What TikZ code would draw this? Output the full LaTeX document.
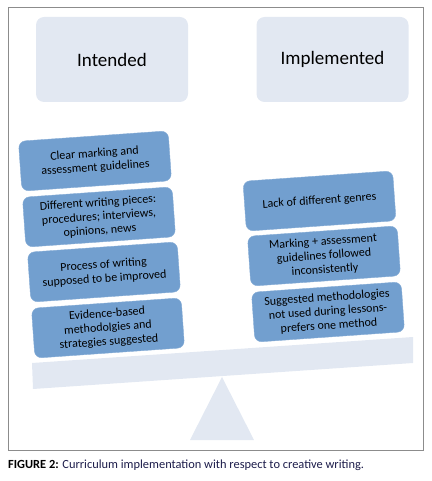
\documentclass[tikz,border=0pt]{standalone}
\usepackage{fontspec}
\setmainfont{Carlito}
\usepackage{tikz}
\usetikzlibrary{positioning}
\definecolor{paleblue}{HTML}{E2E8F2}
\definecolor{itemblue}{HTML}{729FCF}
\definecolor{framegray}{HTML}{8C8C8C}
\definecolor{capnavy}{HTML}{1C1C4A}

\begin{document}
\begin{tikzpicture}[
    x=1pt, y=-1pt,
    head/.style={fill=paleblue, rounded corners=8pt, minimum width=152pt, minimum height=85pt, font=\fontsize{19}{22}\selectfont},
    item/.style={fill=itemblue, draw=itemblue!85!white, rounded corners=7pt, minimum width=150pt, minimum height=50pt, inner sep=1pt, align=center, rotate=4, font=\fontsize{12}{14}\selectfont}
]
\useasboundingbox (0,0) rectangle (431,481);
\draw[framegray, line width=0.9pt] (8,7) rectangle (423,450);

\node[head] (intended) at (112,59.5) {Intended};
\node[head] (implemented) at (332.5,59.5) {Implemented};

\fill[paleblue] (32,363) -- (413,337) -- (413,363) -- (33,389) -- cycle;
\fill[paleblue] (222,377) -- (254,440) -- (190,440) -- cycle;

\node[item] (clear) at (95,161) {Clear marking and\\assessment guidelines};
\node[item] (pieces) at (99,217) {Different writing pieces:\\procedures; interviews,\\opinions, news};
\node[item] (process) at (104,272) {Process of writing\\supposed to be improved};
\node[item] (evidence) at (108,328) {Evidence-based\\methodolgies and\\strategies suggested};

\node[item] (genres) at (319.5,201) {Lack of different genres};
\node[item] (marking) at (324,256) {Marking + assessment\\guidelines followed\\inconsistently};
\node[item] (methods) at (328,312) {Suggested methodologies\\not used during lessons-\\prefers one method};

\node[anchor=west, inner sep=0pt, text=capnavy, font=\fontsize{12.4}{14}\selectfont] (caption) at (8,465) {\textbf{\color{black}FIGURE 2:} Curriculum implementation with respect to creative writing.};
\end{tikzpicture}
\end{document}
